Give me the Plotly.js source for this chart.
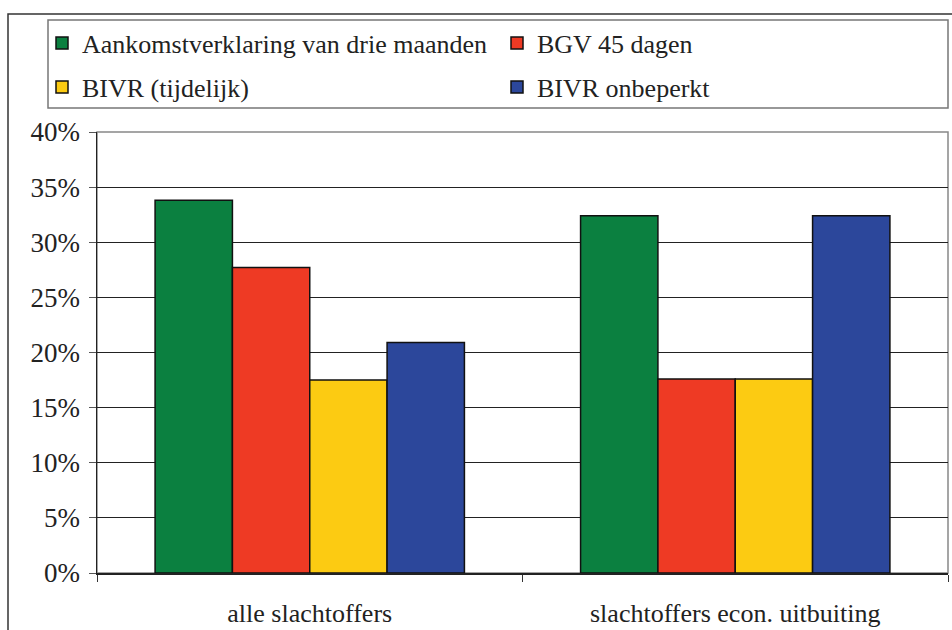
<!DOCTYPE html>
<html>
<head>
<meta charset="utf-8">
<script src="https://cdn.plot.ly/plotly-3.0.1.min.js"></script>
<style>
  body { margin: 0; background: #fff; }
  #chart { width: 952px; height: 630px; }
</style>
</head>
<body>
<div id="chart"></div>
<script>
// categories and series (percent)
const categories = ['alle slachtoffers', 'slachtoffers econ. uitbuiting'];
const seriesNames = ['Aankomstverklaring van drie maanden', 'BGV 45 dagen', 'BIVR (tijdelijk)', 'BIVR onbeperkt'];
const aankomst = [33.8, 32.4];
const bgv45 = [27.7, 17.6];
const bivrTijdelijk = [17.5, 17.6];
const bivrOnbeperkt = [20.9, 32.4];
const colors = ['#0b8040', '#ee3a24', '#fccb12', '#2c479b'];

const fontFamily = '"Times New Roman", "Liberation Serif", "DejaVu Serif", serif';
const allValues = [aankomst, bgv45, bivrTijdelijk, bivrOnbeperkt];
const legendFor = ['legend', 'legend', 'legend2', 'legend2'];

const traces = allValues.map((vals, i) => ({
    x: categories,
    y: vals,
    type: 'bar',
    name: seriesNames[i],
    legend: legendFor[i],
    marker: {color: colors[i], line: {color: '#111', width: 1.5}},
    hoverinfo: 'none'
}));

// plot area: x 97..948, y 132..573
const px = x => (x - 97) / 851;
const py = y => (573 - y) / 441;

const legendStyle = {
    orientation: 'h',
    entrywidth: 410,
    entrywidthmode: 'pixels',
    itemwidth: 30,
    xanchor: 'left',
    yanchor: 'middle',
    x: px(51),
    bgcolor: 'rgba(0,0,0,0)',
    borderwidth: 0,
    font: {family: fontFamily, size: 26, color: '#222'},
    traceorder: 'normal'
};

const layout = {
    width: 952,
    height: 630,
    margin: {l: 97, r: 4, t: 132, b: 57},
    paper_bgcolor: '#fff',
    plot_bgcolor: '#fff',
    font: {family: fontFamily, color: '#222'},
    barmode: 'group',
    bargap: 0.273,
    bargroupgap: 0,
    showlegend: true,
    legend: Object.assign({}, legendStyle, {y: py(43)}),
    legend2: Object.assign({}, legendStyle, {y: py(87)}),
    xaxis: {
        type: 'category',
        tickson: 'boundaries',
        ticks: 'outside',
        ticklen: 7,
        tickcolor: '#333',
        showline: true,
        linecolor: '#222',
        linewidth: 2,
        showgrid: false,
        ticklabelstandoff: 16,
        tickfont: {family: fontFamily, size: 26, color: '#222'}
    },
    yaxis: {
        range: [0, 40],
        dtick: 5,
        ticksuffix: '%',
        ticks: 'outside',
        ticklen: 7,
        tickcolor: '#555',
        showline: true,
        linecolor: '#222',
        linewidth: 1.5,
        showgrid: true,
        gridcolor: '#222',
        gridwidth: 1,
        zeroline: false,
        ticklabelstandoff: 3,
        tickfont: {family: fontFamily, size: 27, color: '#222'}
    },
    shapes: [
        // outer frame
        {type: 'rect', xref: 'paper', yref: 'paper', x0: px(8), x1: px(960), y0: py(640), y1: py(14),
         line: {color: '#333', width: 1.5}},
        // legend box
        {type: 'rect', xref: 'paper', yref: 'paper', x0: px(48), x1: px(948), y0: py(108), y1: py(20),
         line: {color: '#777', width: 1.5}},
        // plot area border
        {type: 'rect', xref: 'paper', yref: 'paper', x0: 0, x1: 1, y0: 0, y1: 1, layer: 'below',
         line: {color: '#888', width: 1.5}}
    ]
};

Plotly.newPlot('chart', traces, layout, {staticPlot: true});
</script>
</body>
</html>
